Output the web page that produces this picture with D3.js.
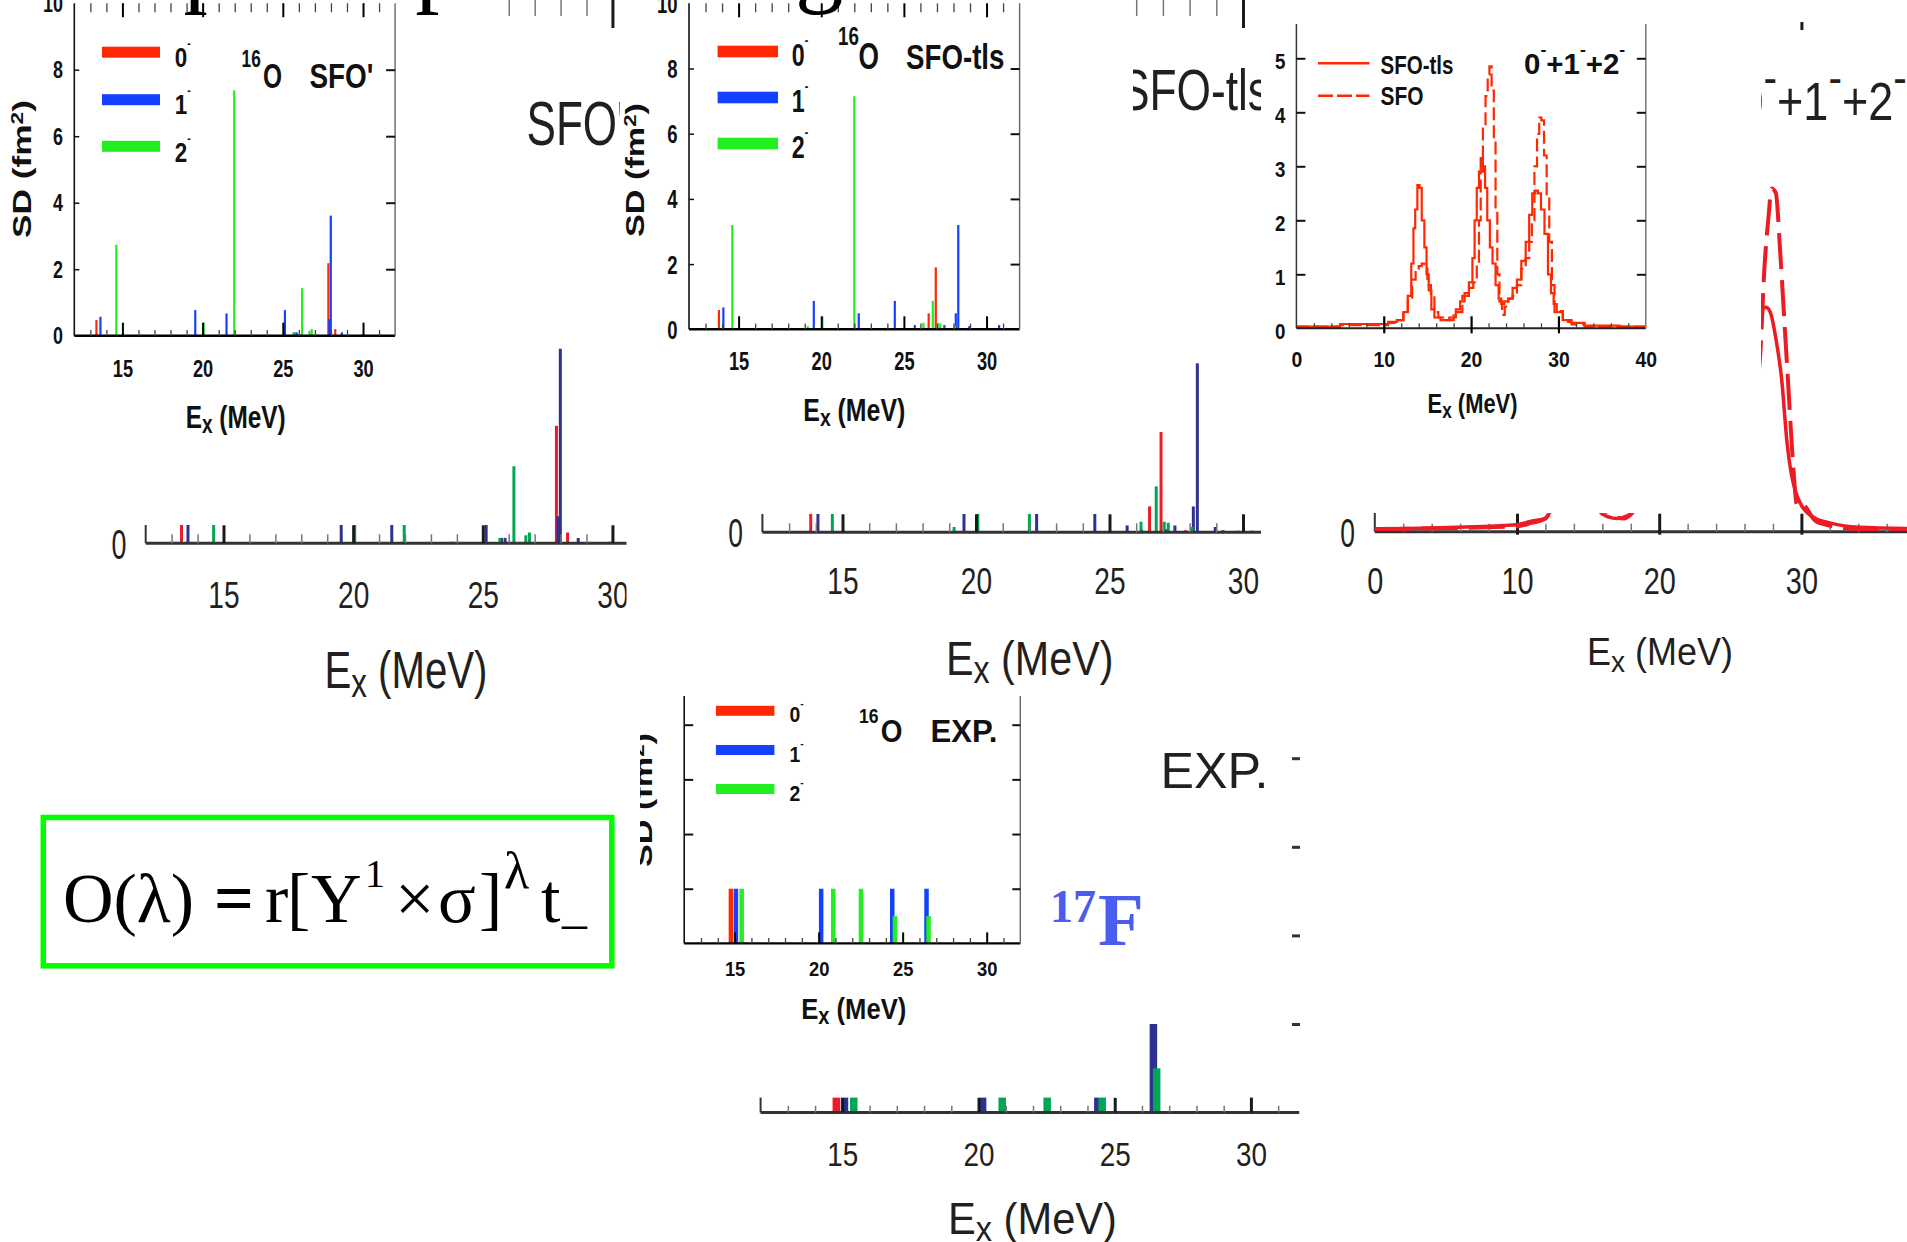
<!DOCTYPE html>
<html>
<head>
<meta charset="utf-8">
<script src="https://cdn.jsdelivr.net/npm/d3@7"></script>
<style>
  html, body { margin: 0; padding: 0; background: #fff; overflow: hidden; }
  svg { display: block; }
</style>
</head>
<body>
<script>
// ---------------- data ----------------
// spin-parity channels shown in the legends
const stateLabels = ["0", "1", "2"];
const energyTicks = [15, 20, 25, 30];
const curveEnergyTicks = [0, 10, 20, 30, 40];
const strengthTicks = [0, 2, 4, 6, 8, 10];
const curveStrengthTicks = [0, 1, 2, 3, 4, 5];

// SFO' discrete strengths [Ex (MeV), SD (fm^2)]
const sfoPrime0 = [[13.38, 0.47], [27.84, 2.18], [28.27, 0.20]];
const sfoPrime1 = [[13.63, 0.57], [19.54, 0.77], [21.49, 0.67], [25.13, 0.77], [25.72, 0.10], [25.86, 0.10],
                   [26.02, 0.03], [27.90, 0.50], [27.99, 3.61], [28.68, 0.10], [29.90, 0.03], [30.98, 0.03]];
const sfoPrime2 = [[14.62, 2.74], [20.06, 0.39], [21.97, 7.38], [23.80, 0.03], [25.66, 0.10], [26.20, 1.43],
                   [26.66, 0.15], [26.80, 0.20]];

// SFO-tls discrete strengths
const sfoTls0 = [[13.81, 0.59], [26.50, 0.49], [26.93, 1.90], [27.85, 0.04]];
const sfoTls1 = [[14.08, 0.67], [19.55, 0.87], [22.27, 0.49], [24.45, 0.87], [25.66, 0.13], [26.20, 0.05],
                 [27.10, 0.06], [27.45, 0.13], [28.14, 0.49], [28.29, 3.20], [28.96, 0.10], [29.25, 0.04],
                 [29.82, 0.03], [30.32, 0.03], [30.76, 0.13]];
const sfoTls2 = [[14.62, 3.20], [19.18, 0.10], [20.07, 0.39], [22.00, 7.15], [26.18, 0.20], [26.75, 0.87],
                 [27.05, 0.20], [27.20, 0.18], [28.09, 0.10]];

// experimental levels (heights are level markers)
const exp0 = [[14.78, 2]];
const exp1 = [[15.08, 2], [20.15, 2], [24.38, 2], [26.42, 2]];
const exp2 = [[15.42, 2], [20.87, 2], [22.52, 2], [24.54, 1], [26.54, 1]];

// summed strength functions 0- + 1- + 2-  [Ex, strength]
const tlsStrength = [[0, 0.03], [10, 0.08], [11, 0.12], [12, 0.15], [12.5, 0.3], [13, 0.6], [13.3, 1.2], [13.5, 1.85],
  [13.7, 2.2], [14, 2.65], [14.2, 2.6], [14.5, 2.0], [14.8, 1.5], [15, 1.0], [15.3, 0.7], [15.6, 0.35], [16, 0.2],
  [17, 0.15], [18, 0.2], [18.5, 0.35], [19, 0.5], [19.5, 0.65], [20, 0.85], [20.3, 1.3], [20.5, 2.0], [20.8, 2.6],
  [21, 2.9], [21.2, 3.15], [21.5, 3.0], [21.7, 2.6], [22, 2.0], [22.3, 1.5], [22.6, 1.2], [23, 0.8], [23.3, 0.55],
  [23.6, 0.45], [24, 0.5], [24.5, 0.55], [25, 0.75], [25.5, 0.9], [26, 1.25], [26.5, 1.6], [26.8, 2.1], [27.2, 2.5],
  [27.5, 2.55], [27.8, 2.5], [28.2, 2.2], [28.6, 1.75], [29, 1.0], [29.3, 0.65], [29.6, 0.45], [30, 0.3], [31, 0.15],
  [32, 0.1], [34, 0.05], [40, 0.03]];
const sfoStrength = [[0, 0.03], [10, 0.06], [11, 0.1], [12, 0.15], [12.5, 0.3], [13, 0.55], [13.5, 0.9], [13.8, 1.1],
  [14.2, 1.15], [14.5, 1.2], [14.8, 1.1], [15.2, 0.8], [15.6, 0.6], [16, 0.3], [16.5, 0.2], [17.5, 0.15], [18.5, 0.3],
  [19.5, 0.6], [20, 0.75], [20.5, 0.85], [20.8, 1.2], [21, 2.0], [21.2, 2.9], [21.5, 3.7], [21.8, 4.3], [22, 4.7],
  [22.2, 4.85], [22.5, 4.4], [22.7, 3.5], [22.9, 2.2], [23.1, 1.0], [23.4, 0.5], [23.7, 0.25], [24, 0.4], [24.5, 0.55],
  [25, 0.6], [25.5, 0.8], [26, 1.1], [26.5, 1.3], [26.8, 1.6], [27.1, 2.0], [27.4, 3.0], [27.7, 3.6], [27.9, 3.9],
  [28.2, 3.85], [28.5, 3.2], [28.8, 2.4], [29.1, 1.6], [29.4, 0.8], [29.7, 0.3], [30, 0.32], [31, 0.12], [32, 0.07],
  [34, 0.03], [40, 0.03]];

// ---------------- setup ----------------
const W = 1907, H = 1242;
const SANS = "'Liberation Sans', Arial, Helvetica, sans-serif";
const SERIF = "'Liberation Serif', 'Times New Roman', Times, serif";
const INK = "#231f20";
const insetColors = ["#ff2800", "#1440ff", "#22ee22"];
const bigColors = ["#ed1c24", "#2e3192", "#00a651"];

const svg = d3.select("body").append("svg")
  .attr("width", W).attr("height", H).attr("viewBox", `0 0 ${W} ${H}`);
svg.append("rect").attr("width", W).attr("height", H).attr("fill", "#fff");
const defs = svg.append("defs");

function clip(id, x, y, w, h) {
  defs.append("clipPath").attr("id", id)
    .append("rect").attr("x", x).attr("y", y).attr("width", w).attr("height", h);
  return `url(#${id})`;
}

// text placed at (x, baseline y), horizontally condensed by sx or fitted to width w
function txt(parent, o, build) {
  const t = parent.append("text")
    .attr("font-family", o.family || SANS)
    .attr("font-size", o.size)
    .attr("font-weight", o.weight || "normal")
    .attr("fill", o.fill || INK)
    .attr("text-anchor", o.anchor || "start");
  if (typeof build === "string") t.text(build); else build(t);
  let sx = o.sx || 1;
  if (o.w) sx = o.w / t.node().getBBox().width;
  t.attr("transform", `translate(${o.x},${o.y})${o.rotate ? ` rotate(${o.rotate})` : ""} scale(${sx},1)`);
  return t;
}

// "Ex (MeV)" with subscript x
const exLabel = sub => t => {
  t.append("tspan").text("E");
  t.append("tspan").attr("font-size", "78%").attr("dy", sub).text("x");
  t.append("tspan").attr("dy", -sub).text(" (MeV)");
};
// digit followed by a raised minus sign
const parity = (digit, size, up) => t => {
  t.append("tspan").text(digit);
  t.append("tspan").attr("font-size", size).attr("dy", -up).text("-");
};
// "SD (fm²)"
const sdLabel = up => t => {
  t.append("tspan").text("SD (fm");
  t.append("tspan").attr("font-size", "65%").attr("dy", -up).text("2");
  t.append("tspan").attr("dy", up).text(")");
};

function ticksUp(g, scale, y, values, len, sw, color, below = 0) {
  const a = g.append("g").attr("transform", `translate(0,${y})`)
    .call(d3.axisTop(scale).tickValues(values).tickSize(len).tickSizeOuter(0).tickFormat(""));
  a.select(".domain").remove();
  a.selectAll(".tick text").remove();
  a.selectAll(".tick line").attr("stroke", color).attr("stroke-width", sw).attr("y1", below);
}
function ticksDown(g, scale, y, values, len, sw, color) {
  const a = g.append("g").attr("transform", `translate(0,${y})`)
    .call(d3.axisBottom(scale).tickValues(values).tickSize(len).tickSizeOuter(0).tickFormat(""));
  a.select(".domain").remove();
  a.selectAll(".tick text").remove();
  a.selectAll(".tick line").attr("stroke", color).attr("stroke-width", sw);
}
function ticksSide(g, scale, x, values, len, sw, color, pointRight) {
  const axis = pointRight ? d3.axisRight(scale) : d3.axisLeft(scale);
  const a = g.append("g").attr("transform", `translate(${x},0)`)
    .call(axis.tickValues(values).tickSize(len).tickSizeOuter(0).tickFormat(""));
  a.select(".domain").remove();
  a.selectAll(".tick text").remove();
  a.selectAll(".tick line").attr("stroke", color).attr("stroke-width", sw);
}
function xLabels(g, scale, y0, values, o) {
  const a = g.append("g").attr("transform", `translate(0,${y0})`)
    .call(d3.axisBottom(scale).tickValues(values).tickSize(0).tickFormat(d3.format("d")));
  a.select(".domain").remove();
  a.attr("font-family", SANS).attr("font-size", o.size).attr("font-weight", o.weight || "normal");
  a.selectAll(".tick text").attr("fill", o.fill || INK)
    .attr("y", o.capTop - y0).attr("dy", "0.716em")
    .attr("transform", `scale(${o.sx},1)`);
}
function yLabels(g, scale, x0, values, o) {
  const a = g.append("g").attr("transform", `translate(${x0},0)`)
    .call(d3.axisLeft(scale).tickValues(values).tickSize(0).tickFormat(d3.format("d")));
  a.select(".domain").remove();
  a.attr("font-family", SANS).attr("font-size", o.size).attr("font-weight", o.weight || "normal");
  a.selectAll(".tick text").attr("fill", o.fill || INK)
    .attr("x", -(x0 - o.right) / o.sx).attr("y", o.shift || 0).attr("dy", "0.358em")
    .attr("transform", `scale(${o.sx},1)`);
}
function drawBars(g, xs, ys, data, color, width) {
  g.append("g").selectAll("line").data(data).join("line")
    .attr("x1", d => xs(d[0])).attr("x2", d => xs(d[0]))
    .attr("y1", ys(0)).attr("y2", d => ys(d[1]))
    .attr("stroke", color).attr("stroke-width", width);
}
function hline(g, x1, x2, y, sw, color) {
  g.append("line").attr("x1", x1).attr("x2", x2).attr("y1", y).attr("y2", y)
    .attr("stroke", color).attr("stroke-width", sw);
}
function vline(g, x, y1, y2, sw, color) {
  g.append("line").attr("x1", x).attr("x2", x).attr("y1", y1).attr("y2", y2)
    .attr("stroke", color).attr("stroke-width", sw);
}
const minorMeV = d3.range(13, 32).filter(v => v % 5 !== 0);

// ================= enlarged background panels =================

// ---- SFO' enlarged ----
const gB = svg.append("g").attr("clip-path", clip("clipB", 0, 0, 626.5, H));
const xB = d3.scaleLinear().domain([12, 32]).range([145.7, 664.3]);
const yB = d3.scaleLinear().domain([0, 10]).range([543.3, 4.3]);
[sfoPrime0, sfoPrime1, sfoPrime2].forEach((d, i) => drawBars(gB, xB, yB, d, bigColors[i], 3));
hline(gB, xB(12), xB(32), yB(0), 3, "#333");
vline(gB, xB(12), yB(0), yB(10), 2, "#333");
ticksUp(gB, xB, yB(0), minorMeV, 9, 1.5, "#777");
ticksUp(gB, xB, yB(0), energyTicks, 18, 3, "#1a1a1a");
ticksDown(gB, xB, -1, minorMeV, 17, 1.5, "#777");
ticksDown(gB, xB, -1, energyTicks, 29, 3, "#1a1a1a");
xLabels(gB, xB, yB(0), energyTicks, { capTop: 581.7, size: 37, sx: 0.76 });
yLabels(gB, yB, xB(12), [0], { right: 126.5, size: 42, sx: 0.64 });
txt(gB, { x: 324.5, y: 688.3, size: 51, w: 163 }, exLabel(9));
txt(gB, { x: 526.5, y: 145, size: 63, sx: 0.7 }, "SFO'");

// ---- SFO-tls enlarged ----
const gC2 = svg.append("g").attr("clip-path", clip("clipC2", 640, 0, 621, H));
const xC2 = d3.scaleLinear().domain([12, 32]).range([762.4, 1296.4]);
const yC2 = d3.scaleLinear().domain([0, 10]).range([532.3, 4.3]);
[sfoTls0, sfoTls1, sfoTls2].forEach((d, i) => drawBars(gC2, xC2, yC2, d, bigColors[i], 3));
hline(gC2, xC2(12), xC2(32), yC2(0), 3, "#333");
vline(gC2, xC2(12), yC2(0), yC2(10), 2, "#333");
ticksUp(gC2, xC2, yC2(0), minorMeV, 9, 1.5, "#777");
ticksUp(gC2, xC2, yC2(0), energyTicks, 18, 3, "#1a1a1a");
ticksDown(gC2, xC2, -1, minorMeV, 17, 1.5, "#777");
ticksDown(gC2, xC2, -1, energyTicks, 29, 3, "#1a1a1a");
xLabels(gC2, xC2, yC2(0), energyTicks, { capTop: 568, size: 37, sx: 0.76 });
yLabels(gC2, yC2, xC2(12), [0], { right: 743, size: 40, sx: 0.66 });
txt(gC2, { x: 946, y: 675, size: 49, w: 167.5 }, exLabel(8));
txt(gC2, { x: 1120, y: 110, size: 58, w: 150 }, "SFO-tls");

// ---- summed strength enlarged ----
const gE = svg.append("g").attr("clip-path", clip("clipE", 1262, 0, 645, H));
const xE = d3.scaleLinear().domain([0, 40]).range([1374.8, 1943.6]);
const yE = d3.scaleLinear().domain([0, 6]).range([531.7, 3.7]);
hline(gE, xE(0), W, yE(0), 3, "#333");
vline(gE, xE(0), yE(0), yE(6), 2, "#333");
ticksUp(gE, xE, yE(0), d3.range(2, 40, 2).filter(v => v % 10 !== 0), 8, 1.5, "#777");
ticksUp(gE, xE, yE(0), [10, 20, 30], 18, 3, "#1a1a1a", 3);
ticksDown(gE, xE, 22, [10, 20, 30], 8, 3, "#1a1a1a");
const lineE = d3.line().x(d => xE(d[0])).y(d => yE(d[1])).curve(d3.curveMonotoneX);
gE.append("path").datum(tlsStrength).attr("d", lineE)
  .attr("fill", "none").attr("stroke", "#ed1c24").attr("stroke-width", 3.5).attr("stroke-linejoin", "round");
gE.append("path").datum(sfoStrength).attr("d", lineE)
  .attr("fill", "none").attr("stroke", "#ed1c24").attr("stroke-width", 4).attr("stroke-dasharray", "36,11");
xLabels(gE, xE, yE(0), [0, 10, 20, 30], { capTop: 568, size: 37, sx: 0.78 });
yLabels(gE, yE, xE(0), [0], { right: 1355, size: 40, sx: 0.66 });
txt(gE, { x: 1587, y: 665, size: 38, w: 146 }, exLabel(7));
txt(gE, { x: 1738.5, y: 120, size: 53, sx: 0.85 }, t => {
  const up = 26;
  ["0", "1", "2"].forEach((d, i) => {
    t.append("tspan").attr("dy", i ? up : 0).text((i ? "+" : "") + d);
    t.append("tspan").attr("font-size", "90%").attr("dy", -up).text("-");
  });
});

// ---- EXP enlarged ----
const gG = svg.append("g").attr("clip-path", clip("clipG", 640, 690, 660, H - 690));
const xG = d3.scaleLinear().domain([12, 32]).range([760.6, 1305.4]);
const yG = d3.scaleLinear().domain([0, 10]).range([1112.6, 669.6]);
[exp0, exp1, exp2].forEach((d, i) => drawBars(gG, xG, yG, d, bigColors[i], 7.5));
hline(gG, xG(12), 1299.2, yG(0), 3, "#333");
vline(gG, xG(12), yG(0), yG(10), 2, "#333");
ticksUp(gG, xG, yG(0), minorMeV, 6.8, 1.5, "#777");
ticksUp(gG, xG, yG(0), energyTicks, 15, 3, "#1a1a1a");
ticksSide(gG, yG, 1300, [2, 4, 6, 8], 8, 3, "#333", false);
xLabels(gG, xG, yG(0), energyTicks, { capTop: 1142, size: 34, sx: 0.82 });
txt(gG, { x: 948, y: 1234, size: 45, w: 169 }, exLabel(7));
txt(gG, { x: 1160.4, y: 787.5, size: 50, w: 108 }, "EXP.");

// ---- white backgrounds of the small panels ----
const covers = svg.append("g").attr("fill", "#fff");
covers.append("rect").attr("x", 0).attr("y", 0).attr("width", 505).attr("height", 525);
covers.append("rect").attr("x", 620).attr("y", 0).attr("width", 513).attr("height", 514);
covers.append("rect").attr("x", 1262).attr("y", 0).attr("width", 499).attr("height", 513);
covers.append("rect").attr("x", 640).attr("y", 690).attr("width", 490).attr("height", 407.6);

// ================= small panels =================
function legendBars(g, x1, x2, centers, h) {
  g.append("g").selectAll("rect").data(centers).join("rect")
    .attr("x", x1).attr("width", x2 - x1).attr("y", d => d - h / 2).attr("height", h)
    .attr("fill", (d, i) => insetColors[i]);
}
function legendText(g, x, baselines, size, sx, supSize, up) {
  baselines.forEach((b, i) =>
    txt(g, { x, y: b, size, sx, weight: "bold", fill: "#111" }, parity(stateLabels[i], supSize, up)));
}

// ---- SFO' ----
const gA = svg.append("g");
const xA = d3.scaleLinear().domain([12, 32]).range([74.3, 395.1]);
const yA = d3.scaleLinear().domain([0, 10]).range([335.7, 3.2]);
[sfoPrime0, sfoPrime1, sfoPrime2].forEach((d, i) => drawBars(gA, xA, yA, d, insetColors[i], 2.2));
hline(gA, xA(12), xA(32), yA(0), 2.4, "#000");
vline(gA, xA(12), yA(10), yA(0), 1.6, "#111");
vline(gA, xA(32), yA(10), yA(0), 1.4, "#666");
ticksUp(gA, xA, yA(0), minorMeV, 5.7, 1.3, "#444");
ticksUp(gA, xA, yA(0), energyTicks, 13, 2, "#000");
ticksDown(gA, xA, yA(10), minorMeV, 9, 1.3, "#444");
ticksDown(gA, xA, yA(10), energyTicks, 14, 2, "#000");
ticksSide(gA, yA, xA(32), [2, 4, 6, 8], 9, 2, "#111", false);
ticksSide(gA, yA, xA(12), [2, 4, 6, 8], 5, 1.5, "#111", true);
xLabels(gA, xA, yA(0), energyTicks, { capTop: 360, size: 24, sx: 0.76, weight: "bold", fill: "#111" });
yLabels(gA, yA, xA(12), strengthTicks, { right: 63, size: 23, sx: 0.78, weight: "bold", fill: "#111" });
txt(gA, { x: 185.7, y: 428.3, size: 32, w: 100, weight: "bold", fill: "#111" }, exLabel(5));
txt(gA, { x: 30.6, y: 169, size: 25, w: 138, weight: "bold", fill: "#111", anchor: "middle", rotate: -90 }, sdLabel(8));
legendBars(gA, 102, 160, [52.2, 99.7, 146.3], 11);
legendText(gA, 174.7, [66.7, 114, 161.7], 28, 0.8, 13, 19);
txt(gA, { x: 241.6, y: 66.7, size: 23, sx: 0.75, weight: "bold", fill: "#111" }, "16");
txt(gA, { x: 263, y: 88.3, size: 35, sx: 0.7, weight: "bold", fill: "#111" }, "O");
txt(gA, { x: 309.4, y: 88.3, size: 35, w: 64, weight: "bold", fill: "#111" }, "SFO'");

// ---- SFO-tls ----
const gC = svg.append("g");
const xC = d3.scaleLinear().domain([12, 32]).range([689, 1019.6]);
const yC = d3.scaleLinear().domain([0, 10]).range([329.3, 3.3]);
[sfoTls0, sfoTls1, sfoTls2].forEach((d, i) => drawBars(gC, xC, yC, d, insetColors[i], 2.2));
hline(gC, xC(12), xC(32), yC(0), 2.4, "#000");
vline(gC, xC(12), yC(10), yC(0), 1.6, "#111");
vline(gC, xC(32), yC(10), yC(0), 1.4, "#666");
ticksUp(gC, xC, yC(0), minorMeV, 5.7, 1.3, "#444");
ticksUp(gC, xC, yC(0), energyTicks, 13, 2, "#000");
ticksDown(gC, xC, yC(10), minorMeV, 9, 1.3, "#444");
ticksDown(gC, xC, yC(10), energyTicks, 14, 2, "#000");
ticksSide(gC, yC, xC(32), [2, 4, 6, 8], 9, 2, "#111", false);
ticksSide(gC, yC, xC(12), [2, 4, 6, 8], 5, 1.5, "#111", true);
xLabels(gC, xC, yC(0), energyTicks, { capTop: 351.7, size: 25, sx: 0.73, weight: "bold", fill: "#111" });
yLabels(gC, yC, xC(12), strengthTicks, { right: 677.5, size: 25, sx: 0.74, weight: "bold", fill: "#111" });
txt(gC, { x: 803.3, y: 420.7, size: 31, w: 102, weight: "bold", fill: "#111" }, exLabel(5));
txt(gC, { x: 644, y: 170, size: 25, w: 134, weight: "bold", fill: "#111", anchor: "middle", rotate: -90 }, sdLabel(8));
legendBars(gC, 717.6, 778, [51.5, 97.5, 143.5], 11.6);
legendText(gC, 791.8, [66, 111.7, 158.3], 31, 0.75, 14, 21);
txt(gC, { x: 838, y: 45, size: 25, sx: 0.75, weight: "bold", fill: "#111" }, "16");
txt(gC, { x: 858.4, y: 69.3, size: 36, sx: 0.73, weight: "bold", fill: "#111" }, "O");
txt(gC, { x: 906, y: 69.3, size: 36, w: 98.5, weight: "bold", fill: "#111" }, "SFO-tls");

// ---- summed strength functions ----
const gD = svg.append("g");
const xD = d3.scaleLinear().domain([0, 40]).range([1296.4, 1645.8]);
const yD = d3.scaleLinear().domain([0, 5.635]).range([328.3, 24]);
const stepD = d3.line().x(d => xD(d[0])).y(d => yD(d[1])).curve(d3.curveStep);
gD.append("path").datum(tlsStrength).attr("d", stepD)
  .attr("fill", "none").attr("stroke", insetColors[0]).attr("stroke-width", 2.2);
gD.append("path").datum(sfoStrength).attr("d", stepD)
  .attr("fill", "none").attr("stroke", insetColors[0]).attr("stroke-width", 2.2).attr("stroke-dasharray", "13,5");
hline(gD, xD(0), xD(40), yD(0), 2, "#222");
vline(gD, xD(0), yD(5.635), yD(0), 1.5, "#333");
vline(gD, xD(40), yD(5.635), yD(0), 1.5, "#777");
ticksUp(gD, xD, yD(0), d3.range(2, 40, 2).filter(v => v % 10 !== 0), 5, 1.3, "#444");
ticksUp(gD, xD, yD(0), [10, 20, 30], 12, 2.2, "#000", 5);
ticksSide(gD, yD, xD(40), [1, 2, 3, 4, 5], 9, 2, "#111", false);
ticksSide(gD, yD, xD(0), [1, 2, 3, 4, 5], 9, 2, "#111", true);
xLabels(gD, xD, yD(0), curveEnergyTicks, { capTop: 351.7, size: 22, sx: 0.88, weight: "bold", fill: "#111" });
yLabels(gD, yD, xD(0), curveStrengthTicks, { right: 1285.4, size: 22, sx: 0.85, weight: "bold", fill: "#111", shift: 2 });
txt(gD, { x: 1427.6, y: 413.3, size: 28, w: 90, weight: "bold", fill: "#111" }, exLabel(5));
hline(gD, 1318, 1369.5, 63.3, 2.5, insetColors[0]);
gD.append("line").attr("x1", 1318).attr("x2", 1369.5).attr("y1", 95.7).attr("y2", 95.7)
  .attr("stroke", insetColors[0]).attr("stroke-width", 2.5).attr("stroke-dasharray", "15,4");
txt(gD, { x: 1380.5, y: 74, size: 25, w: 73, weight: "bold", fill: "#111" }, "SFO-tls");
txt(gD, { x: 1380.5, y: 105, size: 25, w: 43, weight: "bold", fill: "#111" }, "SFO");
txt(gD, { x: 1524, y: 74, size: 29, w: 101.5, weight: "bold", fill: "#111" }, t => {
  const up = 19;
  ["0", "1", "2"].forEach((d, i) => {
    t.append("tspan").attr("dy", i ? up : 0).text((i ? "+" : "") + d);
    t.append("tspan").attr("font-size", "60%").attr("dy", -up).text("-");
  });
});

// ---- EXP ----
const gF = svg.append("g").attr("clip-path", clip("clipF", 640, 0, W - 640, H));
const xF = d3.scaleLinear().domain([12, 32]).range([684.2, 1020.3]);
const yF = d3.scaleLinear().domain([0, 9.05]).range([943.4, 696]);
[exp0, exp1, exp2].forEach((d, i) => drawBars(gF, xF, yF, d, insetColors[i], 4.5));
hline(gF, xF(12), xF(32), yF(0), 2.4, "#000");
vline(gF, xF(12), yF(9.05), yF(0), 1.6, "#111");
vline(gF, xF(32), yF(9.05), yF(0), 1.4, "#666");
ticksUp(gF, xF, yF(0), minorMeV, 5.4, 1.3, "#444");
ticksUp(gF, xF, yF(0), energyTicks, 11, 2, "#000");
ticksSide(gF, yF, xF(32), [2, 4, 6, 8], 8, 2, "#111", false);
ticksSide(gF, yF, xF(12), [2, 4, 6, 8], 9, 2, "#111", true);
xLabels(gF, xF, yF(0), energyTicks, { capTop: 961.4, size: 20, sx: 0.92, weight: "bold", fill: "#111" });
txt(gF, { x: 801.3, y: 1018.7, size: 30, w: 105, weight: "bold", fill: "#111" }, exLabel(5));
txt(gF, { x: 652, y: 800, size: 25, w: 134, weight: "bold", fill: "#111", anchor: "middle", rotate: -90 }, sdLabel(8));
legendBars(gF, 715.9, 774.4, [710.8, 750, 789], 10);
legendText(gF, 789.6, [722.3, 761.7, 801], 21.5, 0.9, 11, 15);
txt(gF, { x: 859, y: 723, size: 20, sx: 0.88, weight: "bold", fill: "#111" }, "16");
txt(gF, { x: 880.7, y: 741.6, size: 31, sx: 0.9, weight: "bold", fill: "#111" }, "O");
txt(gF, { x: 930.5, y: 741.6, size: 31, w: 67, weight: "bold", fill: "#111" }, "EXP.");

// ---- 17F tag ----
const tag = svg.append("text").attr("font-family", SERIF).attr("font-weight", "bold").attr("fill", "#4b5cf0");
tag.append("tspan").attr("x", 1050).attr("y", 922).attr("font-size", 46).text("17");
tag.append("tspan").attr("x", 1098).attr("y", 945).attr("font-size", 75).text("F");

// ---- operator box ----
const gEq = svg.append("g");
gEq.append("rect").attr("x", 43.3).attr("y", 817.5).attr("width", 568.5).attr("height", 148.3)
  .attr("fill", "none").attr("stroke", "#00ff00").attr("stroke-width", 5.5);
const eq = gEq.append("text").attr("font-family", SERIF).attr("font-size", 70).attr("fill", "#000");
const eqY = 921.7;
[
  ["O(λ)", 63, eqY, 70, "normal"], ["=", 214, eqY, 70, "bold"], ["r", 265, eqY, 70, "normal"],
  ["[", 287, eqY, 70, "normal"], ["Y", 311, eqY, 70, "normal"], ["1", 365, 887, 40, "normal"],
  ["×", 395, eqY, 70, "normal"], ["σ", 438, eqY, 70, "normal"], ["]", 479, eqY, 70, "normal"],
  ["λ", 504, 888, 52, "normal"], ["t", 541, eqY, 70, "normal"], ["_", 562, eqY, 50, "normal"]
].forEach(([s, x, y, size, wt]) => eq.append("tspan").attr("x", x).attr("y", y)
  .attr("font-size", size).attr("font-weight", wt).text(s));

// ---- slide heading ----
txt(svg, { x: 129.5, y: -6, size: 97, family: SERIF, fill: "#000" }, "Spin-dipole strength");
</script>
</body>
</html>
